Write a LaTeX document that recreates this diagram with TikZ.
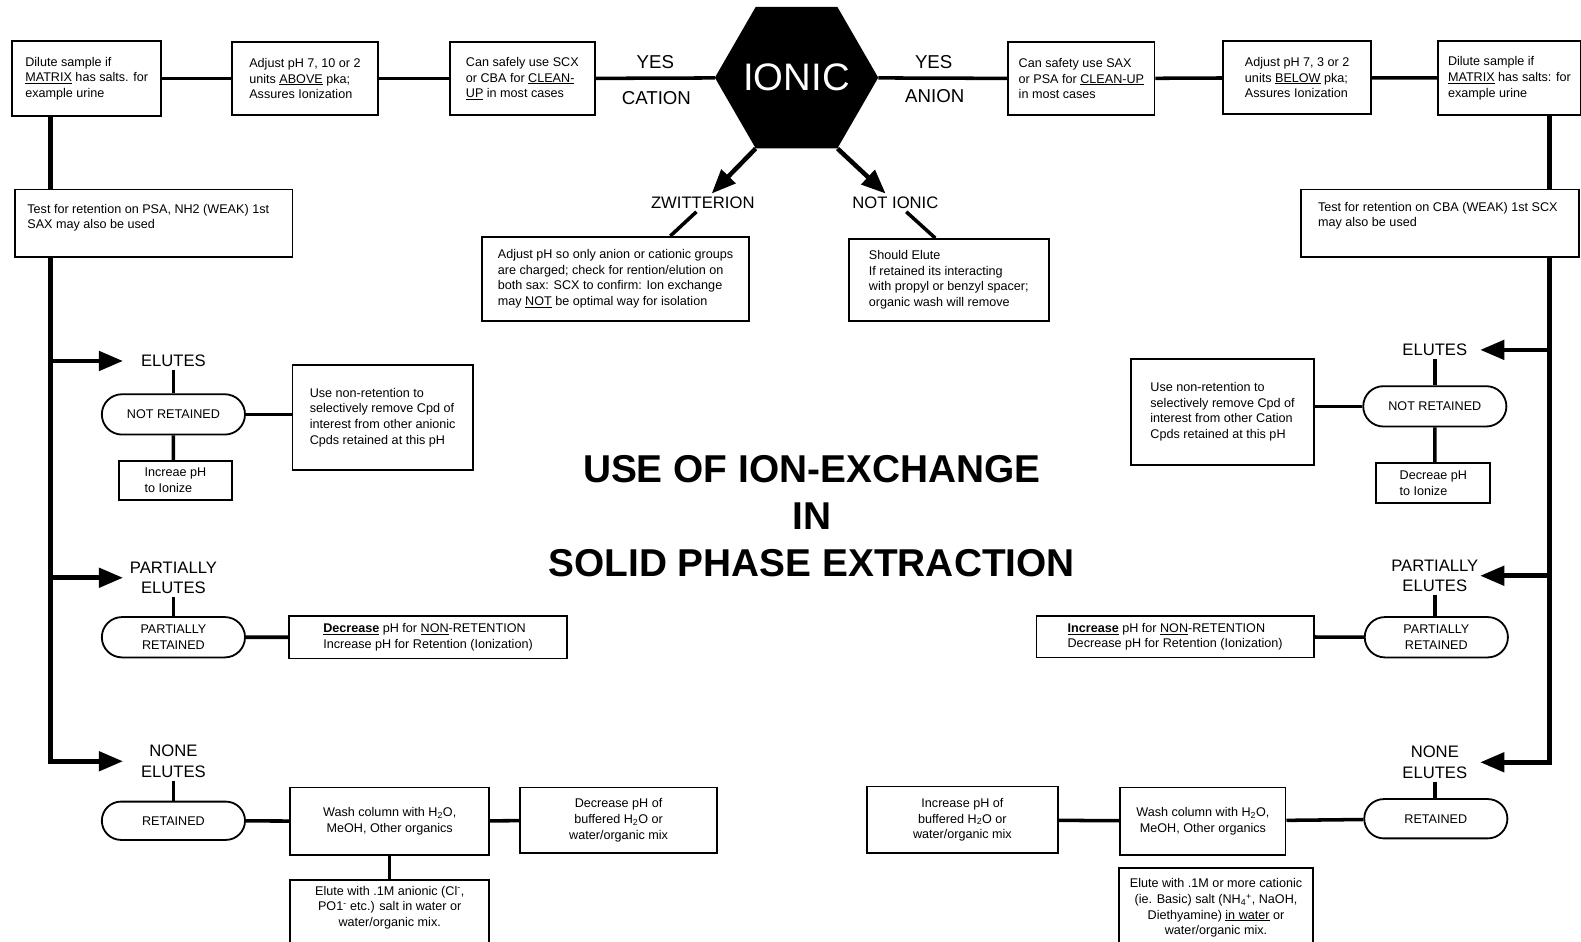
\documentclass[tikz,border=0pt]{standalone}
\usepackage{fontspec}
\setmainfont{Liberation Sans}
\usetikzlibrary{shapes.geometric, shapes.misc, arrows.meta, positioning}

\newcommand\boxfont{\fontsize{12.5}{15.5}\selectfont}
\newcommand\stepfont{\fontsize{16.5}{20.5}\selectfont}
\newcommand\yesfont{\fontsize{18.5}{22}\selectfont}

\tikzset{
  flowbox/.style={
    draw, line width=1.8pt, align=left, font=\boxfont,
    inner xsep=10pt, inner ysep=3pt
  },
  flowboxc/.style={flowbox, align=center},
  pillbox/.style={
    draw, rounded rectangle, line width=1.8pt, align=center,
    font=\boxfont, minimum width=146pt, minimum height=40pt, inner sep=2pt
  },
  steplabel/.style={font=\stepfont, align=center, inner sep=3pt},
  yeslabel/.style={font=\yesfont, inner sep=2pt},
  boxtext/.style={font=\boxfont, align=left, inner sep=0pt},
  wire/.style={line width=3.5pt},
  spine/.style={line width=4.5pt, line join=miter},
  branch/.style={line width=4.5pt, line join=miter,
    -{Triangle[length=24pt, width=19pt]}},
}

\begin{document}
\begin{tikzpicture}[x=1pt, y=-1pt]
  \path[use as bounding box, fill=white] (0,0) rectangle (1568,934);

  % ── Top row ─────────────────────────────────────────────────────
  \node[flowbox, minimum width=148pt, minimum height=74pt] (ldil) at (86,78)
    {Dilute sample if\\\underline{MATRIX} has salts. for\\example urine};
  \node[flowbox, minimum width=145pt, minimum height=72pt] (ladj) at (302.5,78)
    {Adjust pH 7, 10 or 2\\units \underline{ABOVE} pka;\\Assures Ionization};
  \node[flowbox, minimum width=144pt, minimum height=72pt] (lsafe) at (518,78)
    {Can safely use SCX\\or CBA for \underline{CLEAN-}\\\underline{UP} in most cases};

  \node[regular polygon, regular polygon sides=6, fill=black, text=white,
        minimum size=162pt, inner sep=-6pt,
        font=\fontsize{38}{40}\selectfont] (ionic) at (790,77) {IONIC};

  \node[flowbox, minimum width=145pt, minimum height=72pt] (rsafe) at (1072.5,78)
    {Can safety use SAX\\or PSA for \underline{CLEAN-UP}\\in most cases};
  \node[flowbox, minimum width=147pt, minimum height=72pt] (radj) at (1286.5,77)
    {Adjust pH 7, 3 or 2\\units \underline{BELOW} pka;\\Assures Ionization};
  \node[flowbox, minimum width=138pt, minimum height=73pt] (rdil) at (1497,77.5)
    {Dilute sample if\\\underline{MATRIX} has salts: for\\example urine};

  \node[yeslabel] (yescat) at (650,62) {YES};
  \node[yeslabel] (cation) at (651,97) {CATION};
  \node[yeslabel] (yesan) at (926,62) {YES};
  \node[yeslabel] (anion) at (927,95) {ANION};

  \draw[wire] (ldil) -- (ladj);
  \draw[wire] (ladj) -- (lsafe);
  \draw[wire] (lsafe) -- (ionic);
  \draw[wire] (ionic) -- (rsafe);
  \draw[wire] (rsafe) -- (radj);
  \draw[wire] (radj) -- (rdil);

  % ── Zwitterion / not ionic ──────────────────────────────────────
  \node[steplabel] (zwit) at (697,201) {ZWITTERION};
  \node[steplabel] (notion) at (888,201) {NOT IONIC};
  \draw[branch] (ionic.240) -- (zwit);
  \draw[branch] (ionic.300) -- (notion);

  \node[flowbox, minimum width=265pt, minimum height=83pt] (zwbox) at (610.5,276.5)
    {Adjust pH so only anion or cationic groups\\are charged; check for rention/elution on\\both sax: SCX to confirm: Ion exchange\\may \underline{NOT} be optimal way for isolation};
  \node[flowbox, minimum width=198pt, minimum height=81pt] (notbox) at (941,277.5)
    {Should Elute\\If retained its interacting\\with propyl or benzyl spacer;\\organic wash will remove};
  \draw[wire] (zwit.235) -- (zwbox.38);
  \draw[wire] (notion.320) -- (notbox.108);

  % ── Title ───────────────────────────────────────────────────────
  \node[font=\fontsize{38.5}{46.5}\selectfont\bfseries, align=center]
    (title) at (805,512) {USE OF ION-EXCHANGE\\IN\\SOLID PHASE EXTRACTION};

  % ── Left branch (anion) ─────────────────────────────────────────
  \coordinate (lsp) at (50,0);
  \coordinate (ltip) at (122,0);
  \node[flowbox, minimum width=275pt, minimum height=67pt] (ltest) at (152.5,221.5) {};
  \node[boxtext, anchor=west] (ltesttx) at (27,216)
    {Test for retention on PSA, NH2 (WEAK) 1st\\SAX may also be used};
  \draw[spine] (ldil.south -| lsp) -- (ltest.north -| lsp);

  \node[steplabel] (lelu) at (172,358) {ELUTES};
  \node[pillbox] (lnotret) at (172,411) {NOT RETAINED};
  \node[flowbox, minimum width=179pt, minimum height=104pt] (lnonret) at (379.5,414)
    {Use non-retention to\\selectively remove Cpd of\\interest from other anionic\\Cpds retained at this pH};
  \node[flowbox, minimum width=112pt, minimum height=39pt] (linc) at (174,476.5)
    {Increae pH\\to Ionize};
  \draw[wire] (lelu) -- (lnotret);
  \draw[wire] (lnotret.east) -- (lnotret.east -| lnonret.west);
  \draw[wire] (lnotret) -- (lnotret |- linc.north);

  \node[steplabel] (lpelu) at (172,573) {PARTIALLY\\ELUTES};
  \node[pillbox] (lpret) at (172,632) {PARTIALLY\\RETAINED};
  \node[flowbox, minimum width=275pt, minimum height=42pt] (lpfix) at (424.5,632)
    {\underline{\textbf{Decrease}} pH for \underline{NON}-RETENTION\\Increase pH for Retention (Ionization)};
  \draw[wire] (lpelu) -- (lpret);
  \draw[wire] (lpret) -- (lpfix);

  \node[steplabel] (lnelu) at (172,755) {NONE\\ELUTES};
  \node[pillbox, minimum height=38pt] (lret) at (172,814) {RETAINED};
  \node[flowboxc, minimum width=197pt, minimum height=67pt] (lwash) at (386.5,814.5)
    {Wash column with H\textsubscript{2}O,\\MeOH, Other organics};
  \node[flowboxc, minimum width=195pt, minimum height=65pt] (ldec) at (613.5,813.5)
    {Decrease pH of\\buffered H\textsubscript{2}O or\\water/organic mix};
  \node[flowboxc, minimum width=197pt, minimum height=78pt] (lelute) at (386.5,912) {};
  \node[boxtext, align=center] (lelutetx) at (386.5,900)
    {Elute with .1M anionic (Cl\textsuperscript{-},\\PO1\textsuperscript{-} etc.) salt in water or\\water/organic mix.};
  \draw[wire] (lnelu) -- (lret);
  \draw[wire] (lret) -- (lwash);
  \draw[wire] (lwash) -- (ldec);
  \draw[wire] (lwash) -- (lelute);

  \draw[spine] (ltest.south -| lsp) -- (lsp |- lelu) -- (lsp |- lpelu);
  \draw[branch] (lsp |- lelu) -- (ltip |- lelu);
  \draw[branch] (lsp |- lpelu) -- (ltip |- lpelu);
  \draw[branch] (lsp |- lpelu) |- (ltip |- lnelu);

  % ── Right branch (cation) ───────────────────────────────────────
  \coordinate (rsp) at (1537,0);
  \coordinate (rtip) at (1468,0);
  \node[flowbox, minimum width=276pt, minimum height=67pt] (rtest) at (1428,221.5) {};
  \node[boxtext, anchor=west] (rtesttx) at (1307,214)
    {Test for retention on CBA (WEAK) 1st SCX\\may also be used};
  \draw[spine] (rdil.south -| rsp) -- (rtest.north -| rsp);

  \node[steplabel] (relu) at (1423,347) {ELUTES};
  \node[pillbox] (rnotret) at (1423,403) {NOT RETAINED};
  \node[flowbox, minimum width=181pt, minimum height=105pt] (rnonret) at (1212.5,408.5)
    {Use non-retention to\\selectively remove Cpd of\\interest from other Cation\\Cpds retained at this pH};
  \node[flowbox, minimum width=113pt, minimum height=40pt] (rdecr) at (1421.5,479)
    {Decreae pH\\to Ionize};
  \draw[wire] (relu) -- (rnotret);
  \draw[wire] (rnotret.west) -- (rnotret.west -| rnonret.east);
  \draw[wire] (rnotret) -- (rnotret |- rdecr.north);

  \node[steplabel] (rpelu) at (1423,571) {PARTIALLY\\ELUTES};
  \node[pillbox] (rpret) at (1424.5,632) {PARTIALLY\\RETAINED};
  \node[flowbox, minimum width=275pt, minimum height=41pt] (rpfix) at (1165.5,631.5)
    {\underline{\textbf{Increase}} pH for \underline{NON}-RETENTION\\Decrease pH for Retention (Ionization)};
  \draw[wire] (rpelu) -- (rpelu |- rpret.north);
  \draw[wire] (rpret) -- (rpfix);

  \node[steplabel] (rnelu) at (1423,756) {NONE\\ELUTES};
  \node[pillbox, minimum height=39pt] (rret) at (1424,812) {RETAINED};
  \node[flowboxc, minimum width=164pt, minimum height=67pt] (rwash) at (1193,814.5)
    {Wash column with H\textsubscript{2}O,\\MeOH, Other organics};
  \node[flowboxc, minimum width=189pt, minimum height=66pt] (rinc) at (954.5,813)
    {Increase pH of\\buffered H\textsubscript{2}O or\\water/organic mix};
  \node[flowboxc, minimum width=192pt, minimum height=79pt] (relute) at (1206,900.5)
    {Elute with .1M or more cationic\\(ie. Basic) salt (NH\textsubscript{4}\textsuperscript{+}, NaOH,\\Diethyamine) \underline{in water} or\\water/organic mix.};
  \draw[wire] (rnelu) -- (rnelu |- rret.north);
  \draw[wire] (rret) -- (rwash);
  \draw[wire] (rwash) -- (rinc);

  \draw[spine] (rtest.south -| rsp) -- (rsp |- relu) -- (rsp |- rpelu);
  \draw[branch] (rsp |- relu) -- (rtip |- relu);
  \draw[branch] (rsp |- rpelu) -- (rtip |- rpelu);
  \draw[branch] (rsp |- rpelu) |- (rtip |- rnelu);
\end{tikzpicture}
\end{document}
